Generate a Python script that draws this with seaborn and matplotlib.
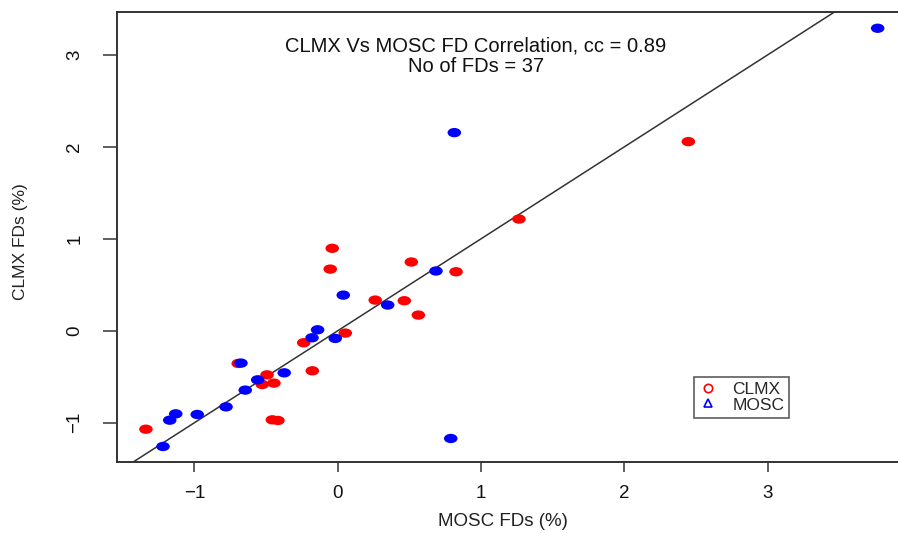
import numpy as np
import pandas as pd
import matplotlib
matplotlib.use("Agg")
import matplotlib.pyplot as plt
import seaborn as sns
from matplotlib.path import Path
from matplotlib.transforms import Affine2D
from matplotlib.lines import Line2D

# ---- data ----
clmx_x = [-0.038, -0.052, 0.514, 0.262, 0.465, 0.563, 0.053, -0.237, -0.177, -0.694,
          -0.493, -0.526, -0.445, -0.456, -0.417, -1.338, 2.447, 1.265, 0.826]
clmx_y = [0.897, 0.671, 0.748, 0.334, 0.327, 0.171, -0.025, -0.130, -0.435, -0.355,
          -0.479, -0.584, -0.569, -0.968, -0.975, -1.070, 2.057, 1.215, 0.642]
mosc_x = [0.039, -0.140, -0.179, -0.017, 0.349, 0.686, -0.675, -0.373, -0.558, -0.645,
          -0.779, -0.980, -1.130, -1.172, -1.219, 0.814, 3.768, 0.789]
mosc_y = [0.388, 0.011, -0.076, -0.083, 0.280, 0.650, -0.351, -0.457, -0.533, -0.645,
          -0.827, -0.910, -0.903, -0.972, -1.258, 2.155, 3.290, -1.171]
series_names = ["CLMX", "MOSC"]
series_colors = ["#ff0000", "#0000ff"]
x_ticks = [-1, 0, 1, 2, 3]
y_ticks = [-1, 0, 1, 2, 3]
title_text = "CLMX Vs MOSC FD Correlation, cc = 0.89\nNo of FDs = 37"
x_label = "MOSC FDs (%)"
y_label = "CLMX FDs (%)"

df = pd.DataFrame({
    "x": clmx_x + mosc_x,
    "y": clmx_y + mosc_y,
    "group": [series_names[0]] * len(clmx_x) + [series_names[1]] * len(mosc_x),
})

sns.set_theme(style="white")
plt.rcParams["font.family"] = ["Liberation Sans", "DejaVu Sans"]

W, H = 898, 533
fig = plt.figure(figsize=(W / 100, H / 100), dpi=100)
left, right, top, bottom = 116.7, 898, 11.7, 462.3
ax = fig.add_axes([left / W, 1 - bottom / H, (right - left) / W, (bottom - top) / H])

# slightly wide ellipse marker (reference is horizontally stretched)
ell = Path.unit_circle().transformed(Affine2D().scale(1.45, 1.0))

sns.scatterplot(data=df, x="x", y="y", hue="group", palette=series_colors,
                hue_order=series_names, marker=ell, s=95, linewidth=0,
                ax=ax, legend=False, zorder=3)

ax.axline((0, 0), slope=1, color="#333333", lw=1.1, zorder=2)

ax.set_xlim(-1.542, 3.91)
ax.set_ylim(-1.43, 3.47)
ax.set_xticks(x_ticks)
ax.set_yticks(y_ticks)
ax.set_xticklabels(["\u2212" + str(abs(v)) if v < 0 else str(v) for v in x_ticks])
ax.set_yticklabels(["\u2212" + str(abs(v)) if v < 0 else str(v) for v in y_ticks],
                   rotation=90, va="center")

for s in ["left", "bottom", "top"]:
    ax.spines[s].set_visible(True)
    ax.spines[s].set_color("#333333")
    ax.spines[s].set_linewidth(1.4)
ax.spines["right"].set_visible(False)

ax.tick_params(axis="x", length=7, width=1.2, color="#444444", pad=9,
               labelsize=13.5, bottom=True, direction="out", labelcolor="#111111")
ax.tick_params(axis="y", length=10, width=1.2, color="#444444", pad=14,
               labelsize=13.5, left=True, direction="out", labelcolor="#111111")

ax.set_xlabel(x_label, fontsize=13.5, color="#222222", va="center")
ax.set_ylabel(y_label, fontsize=12.5, color="#222222", va="center")
ax.xaxis.set_label_coords((503 - left) / (right - left), -(521 - bottom) / (bottom - top))
ax.yaxis.set_label_coords(-(left - 21) / (right - left), 0.49)

ax.text((476 - left) / (right - left), (bottom - 56) / (bottom - top), title_text,
        transform=ax.transAxes, ha="center", va="center", fontsize=14.5,
        color="#111111", linespacing=1.1)

handles = [
    Line2D([], [], linestyle="none", marker="o", markerfacecolor="none",
           markeredgecolor=series_colors[0], markersize=6, markeredgewidth=1.2),
    Line2D([], [], linestyle="none", marker="^", markerfacecolor="none",
           markeredgecolor=series_colors[1], markersize=6, markeredgewidth=1.2),
]
leg = ax.legend(handles, series_names, loc="upper left",
                bbox_to_anchor=((694 - left) / (right - left), (bottom - 377) / (bottom - top)),
                frameon=True, fancybox=False, fontsize=12.5, handlelength=1.0,
                handletextpad=0.9, borderpad=0.3, labelspacing=0.0,
                borderaxespad=0)
leg.get_frame().set_edgecolor("#333333")
leg.get_frame().set_linewidth(1.2)

fig.savefig("out.png", dpi=100)
